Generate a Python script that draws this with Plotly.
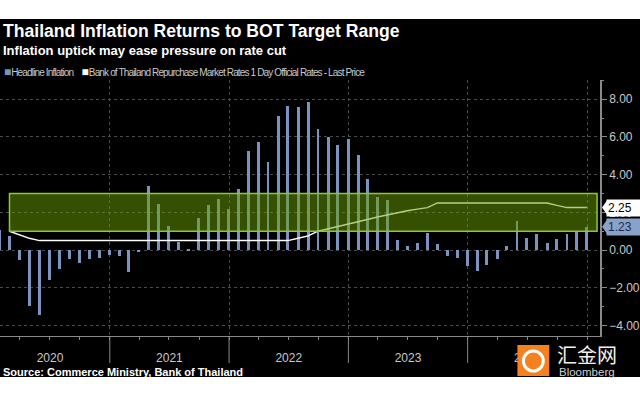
import plotly.graph_objects as go

# ---------------- data ----------------
months = [f"{y}-{m:02d}" for y in range(2020, 2025) for m in range(1, 13)]
month_end_days = {1: 31, 2: 28, 3: 31, 4: 30, 5: 31, 6: 30, 7: 31, 8: 31, 9: 30, 10: 31, 11: 30, 12: 31}
dates = []
for mm in months:
    y, m = int(mm[:4]), int(mm[5:])
    d = month_end_days[m] + (1 if (m == 2 and y % 4 == 0) else 0)
    dates.append(f"{mm}-{d:02d}")

headline_inflation = [
    1.05, 0.74, -0.54, -2.99, -3.44, -1.57, -0.98, -0.50, -0.70, -0.50, -0.41, -0.27,   # 2020
    -0.34, -1.17, -0.08, 3.41, 2.44, 1.25, 0.45, 0.02, 1.68, 2.38, 2.71, 2.17,         # 2021
    3.23, 5.28, 5.73, 4.65, 7.10, 7.66, 7.61, 7.86, 6.41, 5.98, 5.55, 5.89,            # 2022
    5.02, 3.79, 2.83, 2.67, 0.53, 0.23, 0.38, 0.88, 0.30, -0.31, -0.44, -0.83,          # 2023
    -1.11, -0.77, -0.47, 0.19, 1.54, 0.62, 0.83, 0.35, 0.61, 0.83, 0.95, 1.23,          # 2024
]

policy_dates = dates[1:]  # Feb 2020 .. Dec 2024
policy_rate = [
    1.00, 0.80, 0.62, 0.50, 0.50, 0.50, 0.50, 0.50, 0.50, 0.50, 0.50,                   # Feb-Dec 2020
    0.50, 0.50, 0.50, 0.50, 0.50, 0.50, 0.50, 0.50, 0.50, 0.50, 0.50, 0.50,             # 2021
    0.50, 0.50, 0.50, 0.50, 0.50, 0.50, 0.62, 0.75, 1.00, 1.12, 1.25, 1.37,             # 2022
    1.50, 1.62, 1.75, 1.87, 2.00, 2.08, 2.17, 2.25, 2.50, 2.50, 2.50, 2.50,             # 2023
    2.50, 2.50, 2.50, 2.50, 2.50, 2.50, 2.50, 2.50, 2.37, 2.25, 2.25, 2.25,             # 2024
]

target_low, target_high = 1.0, 3.0
target_start, target_end = "2020-02-29", "2025-01-31"

y_ticks = [-4, -2, 0, 2, 4, 6, 8]
year_boundaries = ["2021-01-01", "2022-01-01", "2023-01-01", "2024-01-01"]

title = "Thailand Inflation Returns to BOT Target Range"
subtitle = "Inflation uptick may ease pressure on rate cut"
legend_names = ["Headline Inflation",
                "Bank of Thailand Repurchase Market Rates 1 Day Official Rates - Last Price"]
source = "Source: Commerce Ministry, Bank of Thailand"

# ---------------- styling ----------------
BAR = "#7b93c0"
GRID = "#4a4a4a"
AXIS = "#8a8a8a"
TXT = "#c8c8c8"
FONT = "Liberation Sans, Arial, sans-serif"

# plot area geometry (px)
W, H = 640, 400
ML, MR, MT, MB = 0, 37, 80, 64
PH = H - MT - MB
PW = W - ML - MR


def py(pix):
    """pixel row -> paper y"""
    return (H - MB - pix) / PH


def px(pix):
    return (pix - ML) / PW


fig = go.Figure()

fig.add_trace(go.Bar(
    x=dates, y=headline_inflation, name=legend_names[0],
    marker=dict(color=BAR, line=dict(width=0)),
    width=9 * 86400000, showlegend=False,
))
fig.add_trace(go.Scatter(
    x=policy_dates, y=policy_rate, name=legend_names[1], mode="lines",
    line=dict(color="white", width=1.5), showlegend=False,
))

shapes = []
# black chart background
shapes.append(dict(type="rect", xref="paper", yref="paper", x0=-0.02, x1=1.08,
                   y0=py(377), y1=py(19), fillcolor="black", line=dict(width=0), layer="below"))
# target range box
shapes.append(dict(type="rect", xref="x", yref="y", x0=target_start, x1=target_end,
                   y0=target_low, y1=target_high, fillcolor="rgba(104,160,0,0.5)",
                   line=dict(color="#8cc83c", width=1.5), layer="above"))
# year separators below the axis
for b in year_boundaries:
    shapes.append(dict(type="line", xref="x", yref="paper", x0=b, x1=b, y0=0, y1=py(363),
                       line=dict(color=AXIS, width=1), layer="above"))
# last value arrow tips
shapes.append(dict(type="path", xref="paper", yref="y", xsizemode="pixel", ysizemode="pixel",
                   xanchor=1, yanchor=policy_rate[-1], path="M 2 0 L 7 -7 L 7 7 Z",
                   fillcolor="white", line=dict(width=0), layer="above"))
shapes.append(dict(type="path", xref="paper", yref="y", xsizemode="pixel", ysizemode="pixel",
                   xanchor=1, yanchor=headline_inflation[-1], path="M 2 0 L 7 -7 L 7 7 Z",
                   fillcolor="#8aa2c8", line=dict(width=0), layer="above"))
# watermark box
shapes.append(dict(type="rect", xref="paper", yref="paper", x0=px(520), x1=px(552),
                   y0=py(376), y1=py(345), fillcolor="#f5821f", line=dict(width=0), layer="above"))
shapes.append(dict(type="circle", xref="paper", yref="paper", x0=px(526), x1=px(546),
                   y0=py(371), y1=py(351), fillcolor="rgba(0,0,0,0)",
                   line=dict(color="white", width=3), layer="above"))

LS = 'style="letter-spacing:-0.85px"'
annotations = [
    dict(text=f"<b>{title}</b>", x=px(1), y=py(30.5), xref="paper", yref="paper",
         xanchor="left", yanchor="middle", showarrow=False,
         font=dict(family=FONT, size=17.6, color="white")),
    dict(text=f"<b>{subtitle}</b>", x=px(1), y=py(50.5), xref="paper", yref="paper",
         xanchor="left", yanchor="middle", showarrow=False,
         font=dict(family=FONT, size=13, color="white")),
    dict(text=(f'<span style="color:{BAR};font-size:12px">■</span><span {LS}>{legend_names[0]}</span>   '
               f'<span style="color:white;font-size:12px">■</span><span {LS}>{legend_names[1]}</span>'),
         x=px(2), y=py(72), xref="paper", yref="paper", xanchor="left", yanchor="middle",
         showarrow=False, font=dict(family=FONT, size=10, color=TXT)),
    dict(text=f"<b>{source}</b>", x=px(1), y=py(372), xref="paper", yref="paper",
         xanchor="left", yanchor="middle", showarrow=False,
         font=dict(family=FONT, size=11, color="white")),
    dict(text=f"{policy_rate[-1]:.2f}", x=px(609), y=policy_rate[-1], xref="paper", yref="y",
         xanchor="left", yanchor="middle", showarrow=False, bgcolor="white", width=34,
         align="left", borderpad=1, font=dict(family=FONT, size=12, color="black")),
    dict(text=f"{headline_inflation[-1]:.2f}", x=px(609), y=headline_inflation[-1], xref="paper",
         yref="y", xanchor="left", yanchor="middle", showarrow=False, bgcolor="#8aa2c8",
         width=34, align="left", borderpad=1, font=dict(family=FONT, size=12, color="#1c2c50")),
    dict(text="汇金网", x=px(590), y=py(354), xref="paper", yref="paper", xanchor="center",
         yanchor="middle", showarrow=False,
         font=dict(family="Noto Sans CJK SC", size=20, color="#f4f0ec")),
    dict(text="Bloomberg", x=px(590), y=py(371.5), xref="paper", yref="paper", xanchor="center",
         yanchor="middle", showarrow=False, font=dict(family=FONT, size=11.5, color="#cfcfcf")),
]

fig.update_layout(
    width=W, height=H, margin=dict(l=ML, r=MR, t=MT, b=MB),
    paper_bgcolor="white", plot_bgcolor="black",
    shapes=shapes, annotations=annotations, bargap=0, showlegend=False,
    font=dict(family=FONT, color=TXT),
    xaxis=dict(
        type="date", range=["2020-01-31", "2025-02-09"],
        dtick="M12", tick0="2020-01-01", ticklabelmode="period", tickformat="%Y",
        ticks="outside", ticklen=3, tickcolor=AXIS, ticklabelstandoff=8,
        tickfont=dict(family=FONT, size=12, color=TXT),
        showgrid=True, gridcolor=GRID, griddash="dot", gridwidth=1,
        showline=True, linecolor=AXIS, linewidth=1, zeroline=False,
        minor=dict(dtick="M3", tick0="2020-01-01", ticks="outside", ticklen=3,
                   tickcolor=AXIS, showgrid=False),
    ),
    yaxis=dict(
        side="right", range=[-4.56, 9.02], tickvals=y_ticks, tickformat=".2f",
        ticks="outside", ticklen=5, tickcolor=AXIS,
        tickfont=dict(family=FONT, size=12, color=TXT),
        showgrid=True, gridcolor=GRID, griddash="dot", gridwidth=1,
        showline=True, linecolor=AXIS, linewidth=1.5, zeroline=False,
        minor=dict(dtick=1, ticks="outside", ticklen=2, tickcolor=AXIS, showgrid=False),
    ),
)

fig.write_html("out.html", config={"displayModeBar": False},
               post_script="document.body.style.margin='0';")
